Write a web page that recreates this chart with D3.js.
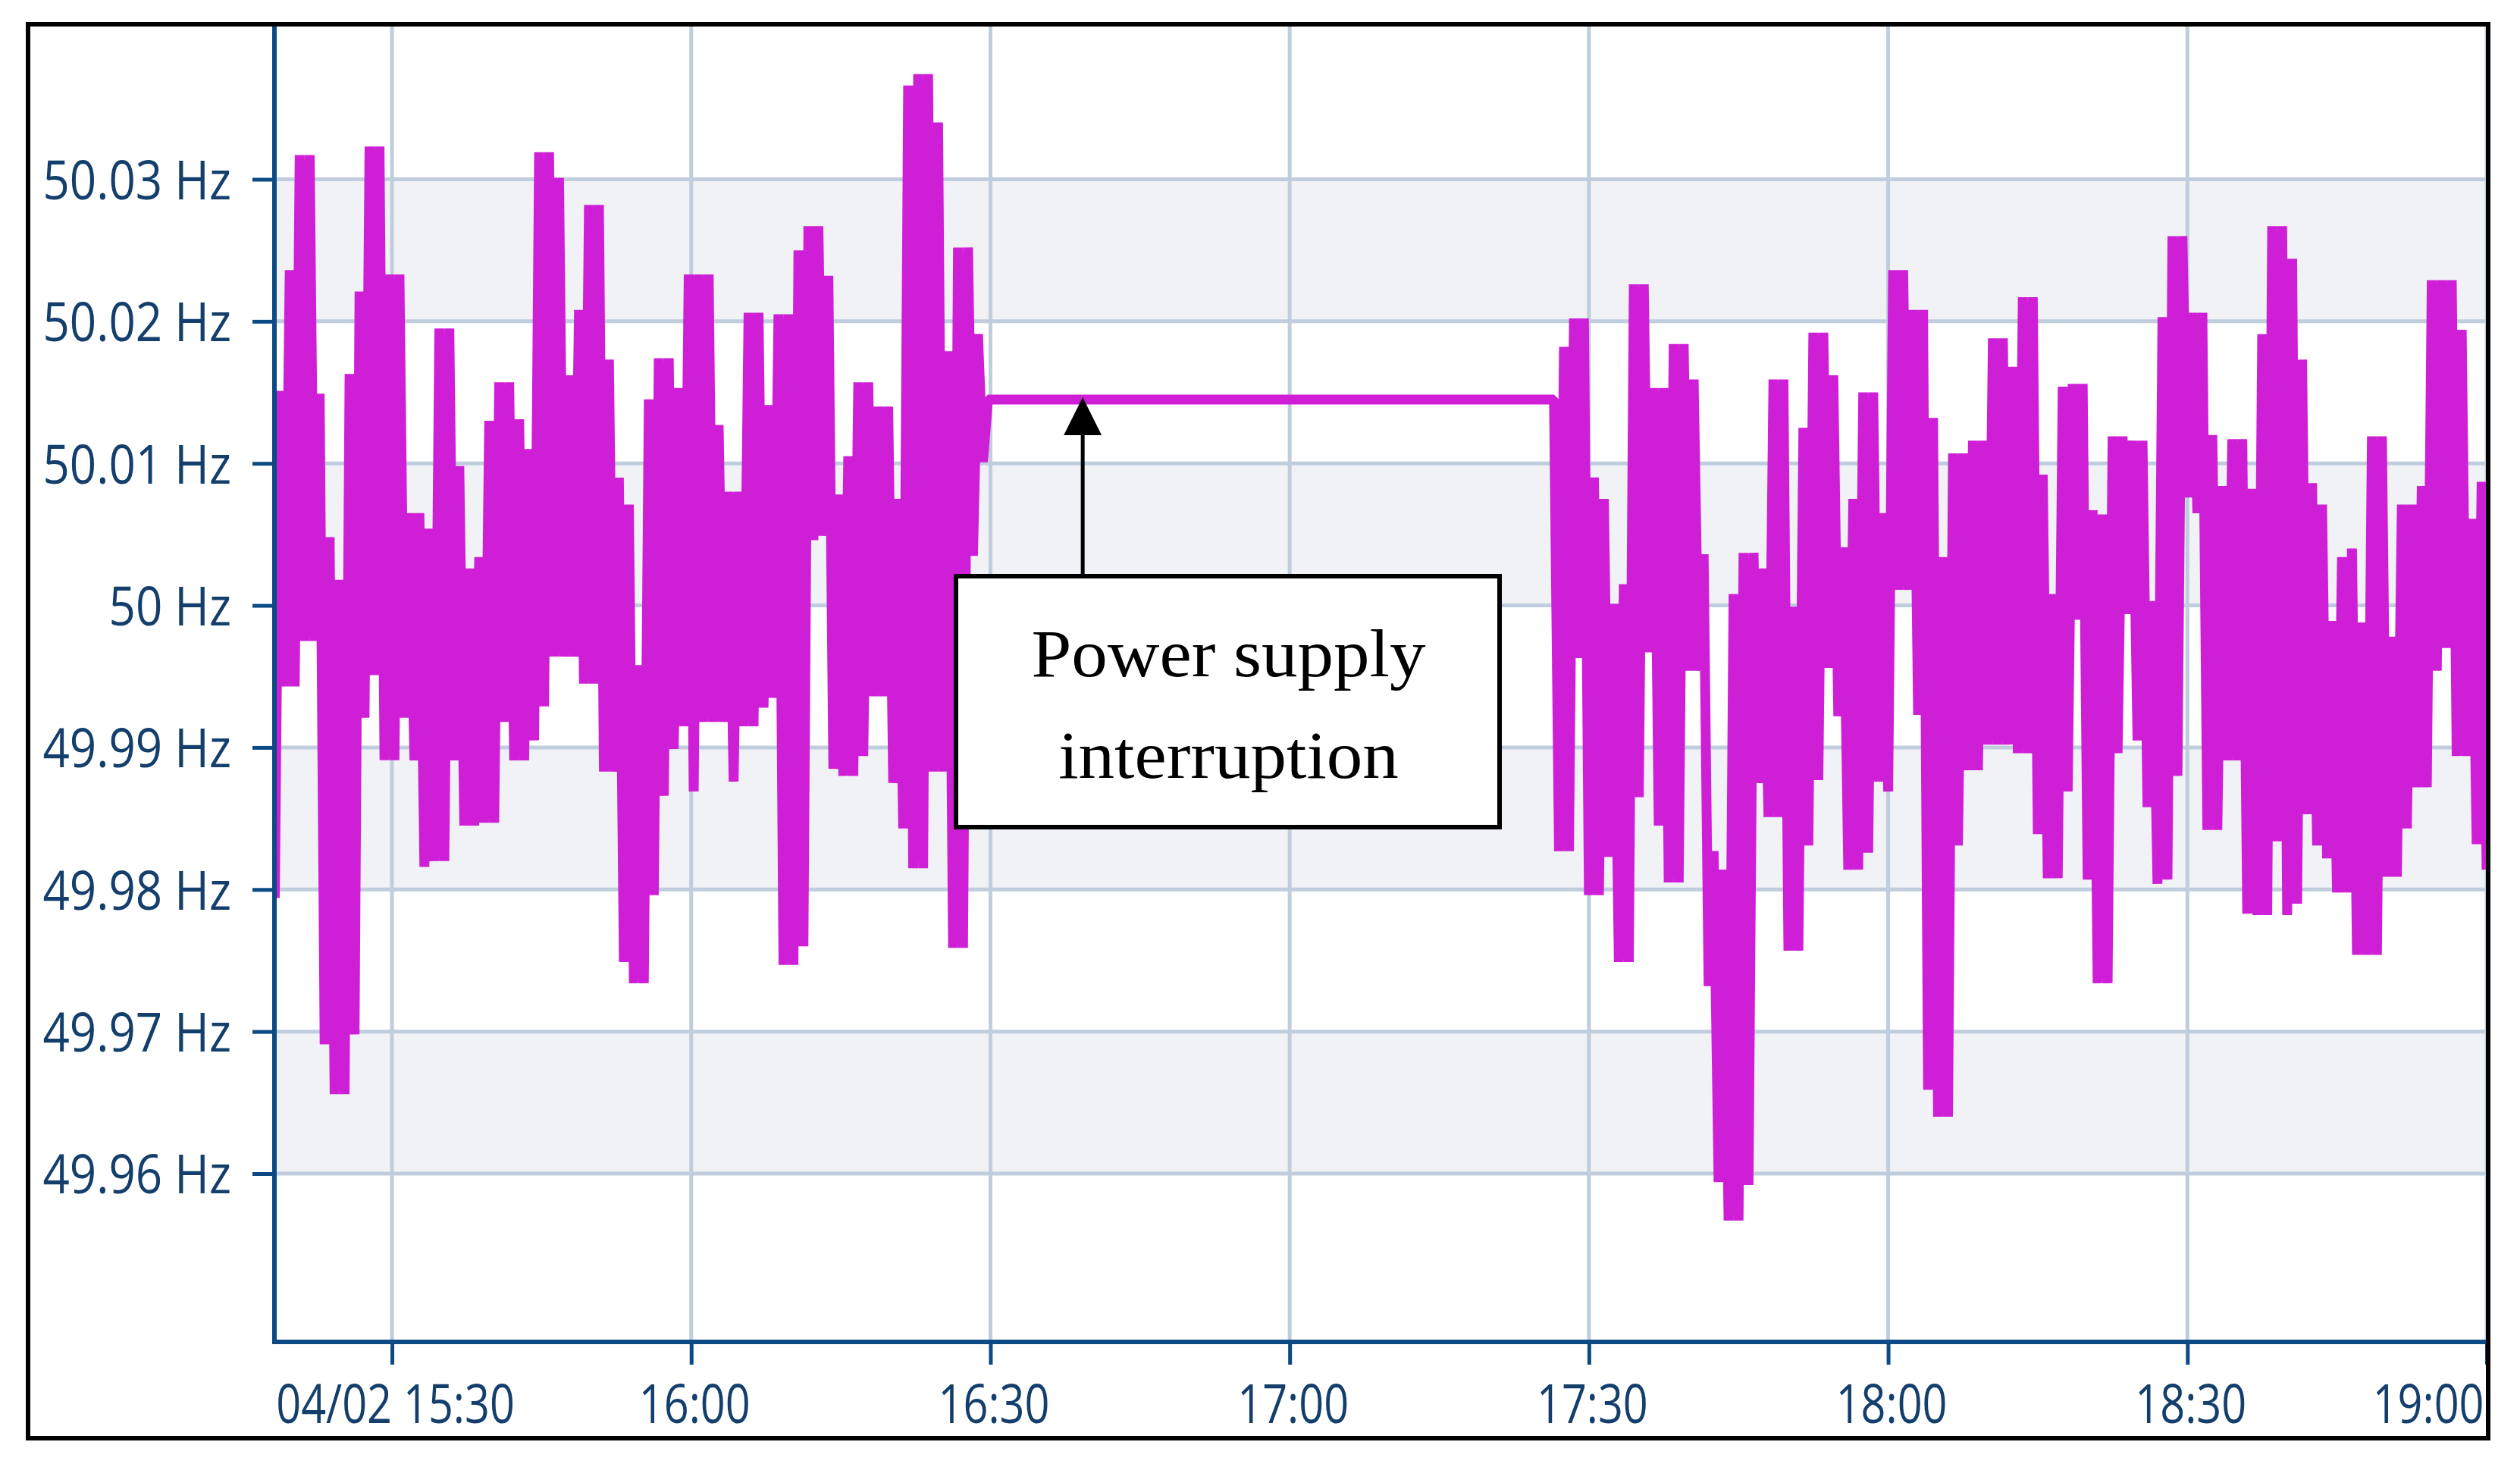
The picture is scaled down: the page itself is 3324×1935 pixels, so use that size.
<!DOCTYPE html>
<html>
<head>
<meta charset="utf-8">
<script src="https://cdn.jsdelivr.net/npm/d3@7"></script>
<style>
  html, body { margin: 0; padding: 0; background: #fff; }
  svg { display: block; }
</style>
</head>
<body>
<svg id="chart"></svg>
<script>
// Grid frequency, 04/02. Readings every 30 s; each minute contributes its
// high then its low, which is what gives the trace its dense band look.
const STEP_SECONDS = 30;

const SEG1_START = '15:18:15';
const SEG1_FREQ = [
  49.9794,
  50.0151, 49.9943, 50.0236, 49.9943, 50.0317, 49.9975, 50.0317, 49.9975,
  50.0149, 49.9691, 50.0048, 49.9656, 50.0018, 49.9656, 50.0163, 49.9698,
  50.0221, 49.9921, 50.0323, 49.9951, 50.0323, 49.9891, 50.0233, 49.9891,
  50.0233, 49.9921, 50.0065, 49.9891, 50.0065, 49.9816, 50.0054, 49.9820,
  50.0195, 49.9820, 50.0195, 49.9891, 50.0098, 49.9845, 50.0026, 49.9845,
  50.0034, 49.9847, 50.0130, 49.9847, 50.0157, 49.9918, 50.0157, 49.9891,
  50.0131, 49.9891, 50.0110, 49.9905, 50.0319, 49.9929, 50.0319, 49.9964,
  50.0301, 49.9964, 50.0162, 49.9964, 50.0208, 49.9945, 50.0282, 49.9945,
  50.0282, 49.9883, 50.0173, 49.9883, 50.0090, 49.9749, 50.0071, 49.9734,
  49.9958, 49.9734, 50.0145, 49.9796, 50.0174, 49.9866, 50.0174, 49.9899,
  50.0153, 49.9915, 50.0233, 49.9869, 50.0233, 49.9918, 50.0233, 49.9918,
  50.0127, 49.9918, 50.0080, 49.9876, 50.0080, 49.9915, 50.0206, 49.9915,
  50.0206, 49.9928, 50.0141, 49.9935, 50.0205, 49.9747, 50.0205, 49.9747,
  50.0250, 49.9760, 50.0267, 50.0046, 50.0267, 50.0049, 50.0232, 49.9885,
  50.0078, 49.9880, 50.0105, 49.9880, 50.0157, 49.9894, 50.0157, 49.9936,
  50.0140, 49.9936, 50.0140, 49.9875, 50.0075, 49.9843, 50.0366, 49.9815,
  50.0374, 49.9815, 50.0374, 49.9883, 50.0340, 49.9883, 50.0179, 49.9759,
  50.0252, 49.9759, 50.0252, 50.0035, 50.0191, 50.0101,
  50.0145
];

const SEG2_START = '17:26:30';
const SEG2_FREQ = [
  50.0145, 49.9827, 50.0182, 49.9827, 50.0202, 49.9963, 50.0202, 49.9796,
  50.0090, 49.9796, 50.0075, 49.9823, 50.0001, 49.9749, 50.0015, 49.9749,
  50.0226, 49.9865, 50.0226, 49.9967, 50.0153, 49.9845, 50.0153, 49.9805,
  50.0184, 49.9805, 50.0184, 49.9954, 50.0159, 49.9954, 50.0036, 49.9732,
  49.9827, 49.9594, 49.9814, 49.9567, 50.0008, 49.9567, 50.0037, 49.9592,
  50.0037, 49.9875, 50.0026, 49.9851, 50.0159, 49.9851, 50.0159, 49.9757,
  49.9999, 49.9757, 50.0125, 49.9831, 50.0192, 49.9877, 50.0192, 49.9956,
  50.0162, 49.9922, 50.0041, 49.9814, 50.0075, 49.9814, 50.0150, 49.9826,
  50.0150, 49.9876, 50.0065, 49.9869, 50.0236, 50.0011, 50.0236, 50.0011,
  50.0208, 49.9923, 50.0208, 49.9659, 50.0132, 49.9640, 50.0034, 49.9640,
  50.0107, 49.9831, 50.0107, 49.9884, 50.0116, 49.9884, 50.0116, 49.9902,
  50.0188, 49.9902, 50.0188, 49.9902, 50.0168, 49.9896, 50.0217, 49.9896,
  50.0217, 49.9839, 50.0092, 49.9808, 50.0008, 49.9808, 50.0154, 49.9869,
  50.0156, 49.9990, 50.0156, 49.9807, 50.0067, 49.9734, 50.0064, 49.9734,
  50.0119, 49.9896, 50.0119, 49.9994, 50.0116, 49.9905, 50.0116, 49.9858,
  50.0003, 49.9804, 50.0203, 49.9807, 50.0260, 49.9880, 50.0260, 50.0076,
  50.0206, 50.0065, 50.0206, 49.9842, 50.0120, 49.9842, 50.0084, 49.9891,
  50.0117, 49.9891, 50.0117, 49.9783, 50.0082, 49.9782, 50.0191, 49.9782,
  50.0267, 49.9834, 50.0267, 49.9782, 50.0244, 49.9790, 50.0173, 49.9853,
  50.0086, 49.9831, 50.0071, 49.9822, 49.9989, 49.9798, 50.0034, 49.9798,
  50.0040, 49.9754, 49.9988, 49.9754, 50.0119, 49.9754, 50.0119, 49.9809,
  49.9978, 49.9809, 50.0071, 49.9843, 50.0071, 49.9872, 50.0084, 49.9872,
  50.0229, 49.9954, 50.0229, 49.9970, 50.0229, 49.9894, 50.0194, 49.9894,
  50.0061, 49.9832, 50.0087, 49.9814
];

const Y_TICKS = [49.96, 49.97, 49.98, 49.99, 50.00, 50.01, 50.02, 50.03];
const X_TICKS = ['15:30:00', '16:00:00', '16:30:00', '17:00:00', '17:30:00', '18:00:00', '18:30:00', '19:00:00'];
const X_TICK_LABELS = ['04/02 15:30', '16:00', '16:30', '17:00', '17:30', '18:00', '18:30', '19:00'];
const X_DOMAIN = ['15:18:13', '19:00:00'];

const NOTE_LINES = ['Power supply', 'interruption'];
const NOTE_AT = '16:39:15';

const W = 3324, H = 1935;
const PLOT = { left: 362, right: 3280, top: 35, bottom: 1770 };
const AXIS_BLUE = '#0b4a84';
const LABEL_BLUE = '#143f6c';
const GRID = '#bfcddd';
const BAND = '#f0f2f6';
const TRACE = '#cf1fd6';

const parseT = d3.timeParse('%H:%M:%S');

function series(start, values) {
  const t0 = parseT(start).getTime();
  return values.map((v, i) => ({ t: new Date(t0 + i * STEP_SECONDS * 1000), v }));
}
const points = series(SEG1_START, SEG1_FREQ).concat(series(SEG2_START, SEG2_FREQ));

const svg = d3.select('#chart').attr('width', W).attr('height', H);

const x = d3.scaleTime().domain(X_DOMAIN.map(parseT)).range([PLOT.left, PLOT.right]);
const y = d3.scaleLinear().domain([49.96, 50.03]).range([1548, 236.5]);

svg.append('defs').append('clipPath').attr('id', 'plotclip')
  .append('rect')
  .attr('x', PLOT.left).attr('y', PLOT.top)
  .attr('width', PLOT.right - PLOT.left).attr('height', PLOT.bottom - PLOT.top);

const plot = svg.append('g').attr('clip-path', 'url(#plotclip)');

// alternating shaded bands between every other pair of gridlines
const bands = d3.range(0, Y_TICKS.length - 1, 2).map((i) => [Y_TICKS[i], Y_TICKS[i + 1]]);
plot.selectAll('rect.band')
  .data(bands)
  .enter()
  .append('rect')
  .attr('class', 'band')
  .attr('x', PLOT.left)
  .attr('width', PLOT.right - PLOT.left)
  .attr('y', (d) => y(d[1]))
  .attr('height', (d) => y(d[0]) - y(d[1]))
  .attr('fill', BAND);

const xTickDates = X_TICKS.map(parseT);

plot.selectAll('line.hgrid')
  .data(Y_TICKS)
  .enter()
  .append('line')
  .attr('x1', PLOT.left).attr('x2', PLOT.right)
  .attr('y1', (d) => y(d)).attr('y2', (d) => y(d))
  .attr('stroke', GRID).attr('stroke-width', 5);

plot.selectAll('line.vgrid')
  .data(xTickDates)
  .enter()
  .append('line')
  .attr('x1', (d) => x(d)).attr('x2', (d) => x(d))
  .attr('y1', PLOT.top).attr('y2', PLOT.bottom)
  .attr('stroke', GRID).attr('stroke-width', 5);

const line = d3.line().x((d) => x(d.t)).y((d) => y(d.v));

plot.append('path')
  .datum(points)
  .attr('d', line)
  .attr('fill', 'none')
  .attr('stroke', TRACE)
  .attr('stroke-width', 13)
  .attr('stroke-linejoin', 'bevel');

// axes (the screenshot is squeezed sideways, so the labels are too)
const Y_SQUEEZE = 0.86;
const X_SQUEEZE = 0.8;

const yAxis = svg.append('g')
  .attr('transform', `translate(${PLOT.left},0)`)
  .call(d3.axisLeft(y).tickValues(Y_TICKS).tickSize(29).tickSizeOuter(0)
    .tickFormat((d) => d3.format('.2~f')(d) + ' Hz'));
yAxis.select('.domain').remove();
yAxis.selectAll('.tick line').attr('stroke', AXIS_BLUE).attr('stroke-width', 5);
yAxis.selectAll('.tick text')
  .attr('x', 0)
  .attr('dy', '0.36em')
  .attr('transform', `translate(-57,0) scale(${Y_SQUEEZE},1)`)
  .attr('fill', LABEL_BLUE)
  .style('font-family', '"Open Sans", "Noto Sans", sans-serif')
  .style('font-size', '72px');

const xAxis = svg.append('g')
  .attr('transform', `translate(0,${PLOT.bottom})`)
  .call(d3.axisBottom(x).tickValues(xTickDates).tickSize(30).tickSizeOuter(0)
    .tickFormat((d, i) => X_TICK_LABELS[i]));
xAxis.select('.domain').remove();
xAxis.selectAll('.tick line').attr('stroke', AXIS_BLUE).attr('stroke-width', 5);
xAxis.selectAll('.tick text')
  .attr('y', 0)
  .attr('dy', null)
  .attr('fill', LABEL_BLUE)
  .style('font-family', '"Open Sans", "Noto Sans", sans-serif')
  .style('font-size', '72px')
  .attr('text-anchor', (d, i) => (i === X_TICKS.length - 1 ? 'end' : 'middle'))
  .attr('transform', (d, i) => {
    const dx = i === X_TICKS.length - 1 ? -4 : 4;
    return `translate(${dx},107) scale(${X_SQUEEZE},1)`;
  });

svg.append('line')
  .attr('x1', PLOT.left).attr('x2', PLOT.left)
  .attr('y1', PLOT.top).attr('y2', PLOT.bottom + 3)
  .attr('stroke', AXIS_BLUE).attr('stroke-width', 6);
svg.append('line')
  .attr('x1', PLOT.left - 3).attr('x2', PLOT.right)
  .attr('y1', PLOT.bottom).attr('y2', PLOT.bottom)
  .attr('stroke', AXIS_BLUE).attr('stroke-width', 6);

// annotation: arrow to the flat stretch, box with note underneath
const noteX = x(parseT(NOTE_AT));
const tipY = y(SEG1_FREQ[SEG1_FREQ.length - 1]) - 3;
const box = { x: 1261, y: 760, w: 717, h: 331 };
const note = svg.append('g');

note.append('line')
  .attr('x1', noteX).attr('x2', noteX)
  .attr('y1', box.y).attr('y2', tipY + 45)
  .attr('stroke', '#000').attr('stroke-width', 5);
note.append('path')
  .attr('d', `M${noteX},${tipY} L${noteX + 25},${tipY + 50} L${noteX - 25},${tipY + 50} Z`)
  .attr('fill', '#000');

note.append('rect')
  .attr('x', box.x).attr('y', box.y)
  .attr('width', box.w).attr('height', box.h)
  .attr('fill', '#fff')
  .attr('stroke', '#000').attr('stroke-width', 6);

note.selectAll('text')
  .data(NOTE_LINES)
  .enter()
  .append('text')
  .attr('transform', (d, i) => `translate(${box.x + box.w / 2 + 1},${892 + i * 134}) scale(1.08,1)`)
  .attr('text-anchor', 'middle')
  .attr('fill', '#000')
  .style('font-family', '"Liberation Serif", "DejaVu Serif", serif')
  .style('font-size', '88px')
  .text((d) => d);

// outer frame
svg.append('rect')
  .attr('x', 37).attr('y', 32)
  .attr('width', 3245).attr('height', 1865)
  .attr('fill', 'none')
  .attr('stroke', '#000').attr('stroke-width', 6);
</script>
</body>
</html>
